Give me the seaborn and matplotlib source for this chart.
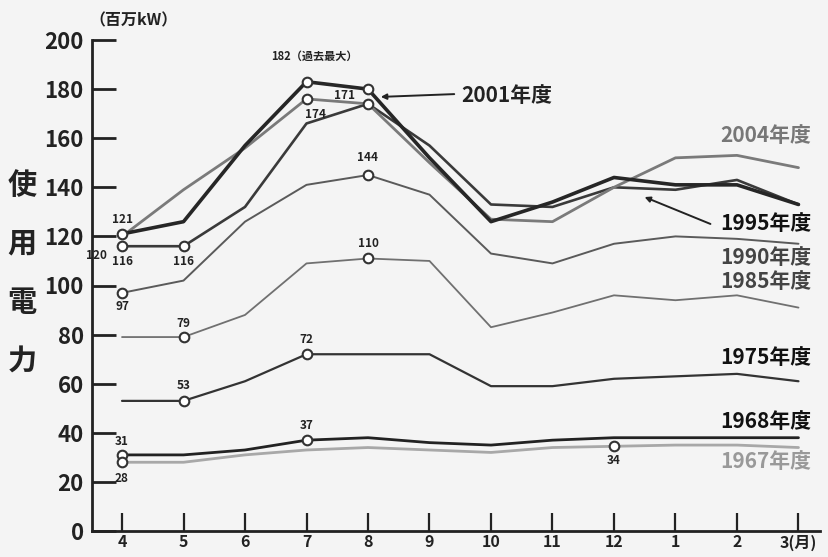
import pandas as pd
import matplotlib.pyplot as plt
import seaborn as sns

# 月（4月〜翌3月）
months = ['4', '5', '6', '7', '8', '9', '10', '11', '12', '1', '2', '3(月)']

# 各年度の月別最大電力（百万kW）
fy2004 = [120, 139, 156, 176, 174, 150, 127, 126, 140, 152, 153, 148]
fy2001 = [121, 126, 157, 183, 180, 152, 126, 134, 144, 141, 141, 133]
fy1995 = [116, 116, 132, 166, 174, 157, 133, 132, 140, 139, 143, 133]
fy1990 = [97, 102, 126, 141, 145, 137, 113, 109, 117, 120, 119, 117]
fy1985 = [79, 79, 88, 109, 111, 110, 83, 89, 96, 94, 96, 91]
fy1975 = [53, 53, 61, 72, 72, 72, 59, 59, 62, 63, 64, 61]
fy1968 = [31, 31, 33, 37, 38, 36, 35, 37, 38, 38, 38, 38]
fy1967 = [28, 28, 31, 33, 34, 33, 32, 34, 34.5, 35, 35, 34]

series = {
    '1967': fy1967, '1968': fy1968, '1975': fy1975, '1985': fy1985,
    '1990': fy1990, '1995': fy1995, '2004': fy2004, '2001': fy2001,
}

# 線のスタイル
styles = {
    '2004': ('#7a7a7a', 2.0),
    '2001': ('#262626', 2.6),
    '1995': ('#3a3a3a', 1.9),
    '1990': ('#5a5a5a', 1.4),
    '1985': ('#707070', 1.3),
    '1975': ('#333333', 1.6),
    '1968': ('#222222', 2.0),
    '1967': ('#a8a8a8', 2.0),
}

# 丸印と数値ラベル: (年度, 月index, テキスト, dx, dy[px])
marks = [
    ('2001', 0, '121', 0, 14), ('2001', 3, '182（過去最大）', 8, 25),
    ('2001', 4, '171', -23, -6), ('2004', 3, '174', 9, -16),
    ('2004', 0, '120', -26, -19),
    ('1995', 0, '116', 0, -15), ('1995', 1, '116', 0, -15), ('1995', 4, '', 0, 0),
    ('1990', 0, '97', 0, -14), ('1990', 4, '144', 0, 18),
    ('1985', 1, '79', 0, 14), ('1985', 4, '110', 0, 15),
    ('1975', 1, '53', 0, 15), ('1975', 3, '72', 0, 15),
    ('1968', 0, '31', 0, 13), ('1968', 3, '37', 0, 15),
    ('1967', 0, '28', 0, -16), ('1967', 8, '34', 0, -14),
]
no_circle = {('2004', 0)}

# 右側の年度ラベル (テキスト, x, y[px from top], color)
year_labels = [
    ('2004年度', 766, 136, '#777777'), ('1995年度', 766, 223, '#111111'),
    ('1990年度', 766, 257, '#444444'), ('1985年度', 766, 282, '#444444'),
    ('1975年度', 766, 357, '#111111'), ('1968年度', 766, 421, '#111111'),
    ('1967年度', 766, 462, '#999999'),
]

rows = []
for year, vals in series.items():
    for i, v in enumerate(vals):
        rows.append({'year': year, 'idx': i, 'value': v})
df = pd.DataFrame(rows)

sns.set_theme(style='white')
plt.rcParams['font.family'] = ['Noto Sans CJK JP', 'DejaVu Sans']
BG = '#f4f4f4'
W, H = 829, 557

fig = plt.figure(figsize=(W / 100, H / 100), dpi=100, facecolor=BG)
ax = fig.add_axes([92 / W, 26 / H, (820 - 92) / W, 491 / H])
ax.set_facecolor(BG)

for year in series:
    color, lw = styles[year]
    sns.lineplot(data=df[df['year'] == year], x='idx', y='value', ax=ax,
                 color=color, linewidth=lw, legend=False)

for year, i, text, dx, dy in marks:
    v = series[year][i]
    if (year, i) not in no_circle:
        ax.scatter([i], [v], s=48, facecolor='white', edgecolor='#333333',
                   linewidth=1.5, zorder=5)
    if text:
        fs = 8 if '過去' in text else 8.5
        ax.annotate(text, (i, v), xytext=(dx, dy), textcoords='offset pixels',
                    ha='center', va='center', fontsize=fs, fontweight='bold',
                    color='#222222', zorder=6)

ax.set_xlim(-0.488, 11.35)
ax.set_ylim(0, 200)
ax.set_xticks(range(len(months)))
ax.set_xticklabels(months)
ax.set_yticks(range(0, 201, 20))
ax.set_xlabel('')
ax.set_ylabel('')

ax.tick_params(axis='y', direction='in', length=17, width=2, colors='#222222',
               labelsize=16, pad=6, left=True)
ax.tick_params(axis='x', direction='in', length=13, width=1.6, colors='#222222',
               labelsize=11.5, pad=2.5, bottom=True)
for lab in ax.get_xticklabels() + ax.get_yticklabels():
    lab.set_fontweight('bold')

for s in ['top', 'right']:
    ax.spines[s].set_visible(False)
for s in ['left', 'bottom']:
    ax.spines[s].set_linewidth(2)
    ax.spines[s].set_color('#222222')


def fx(x):
    return x / W


def fy(y):
    return 1 - y / H


fig.text(fx(134), fy(20), '（百万kW）', ha='center', va='center',
         fontsize=11.5, fontweight='bold', color='#222222')
for ch, y in zip('使用電力', [185, 243, 302, 362]):
    fig.text(fx(22), fy(y), ch, ha='center', va='center', fontsize=21,
             fontweight='bold', color='#222222')

for text, x, y, c in year_labels:
    fig.text(fx(x), fy(y), text, ha='center', va='center', fontsize=15,
             fontweight='bold', color=c)

fig.text(fx(507), fy(95), '2001年度', ha='center', va='center', fontsize=15,
         fontweight='bold', color='#222222')
ax.annotate('', xy=(378, H - 97), xycoords='figure pixels',
            xytext=(457, H - 94), textcoords='figure pixels',
            arrowprops=dict(arrowstyle='-|>', color='#222222', lw=1.4,
                            mutation_scale=8))
ax.annotate('', xy=(642, H - 196), xycoords='figure pixels',
            xytext=(713, H - 225), textcoords='figure pixels',
            arrowprops=dict(arrowstyle='-|>', color='#222222', lw=1.4,
                            mutation_scale=8))

fig.savefig('out.png', dpi=100, facecolor=BG)
